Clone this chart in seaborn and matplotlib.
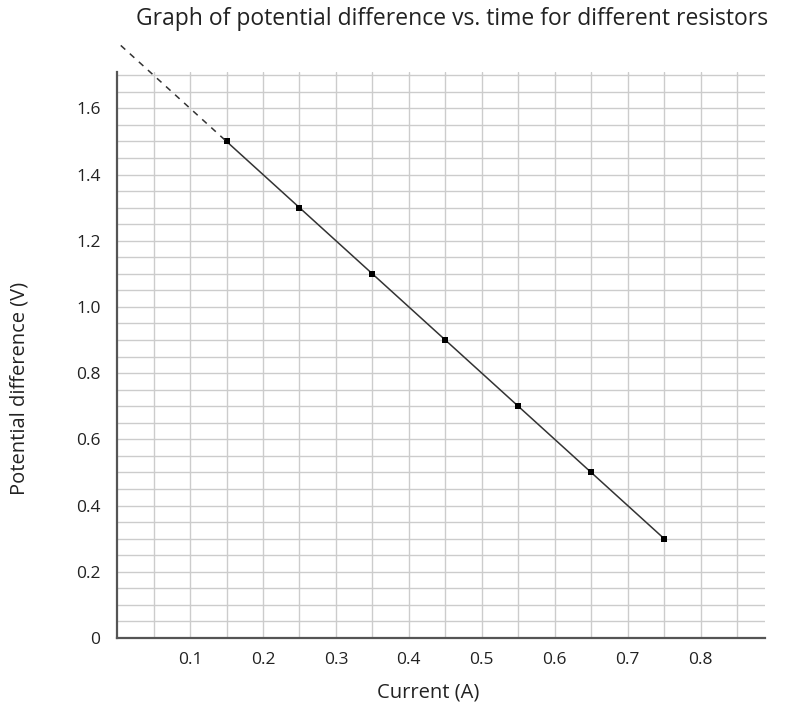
import numpy as np
import pandas as pd
import matplotlib
matplotlib.use("Agg")
import matplotlib.pyplot as plt
import seaborn as sns

current = [0.15, 0.25, 0.35, 0.45, 0.55, 0.65, 0.75]
pot_diff = [1.5, 1.3, 1.1, 0.9, 0.7, 0.5, 0.3]
extrap_current = [0.005, 0.15]
extrap_pd = [1.79, 1.5]
x_ticks = [0.1, 0.2, 0.3, 0.4, 0.5, 0.6, 0.7, 0.8]
y_ticks = [0, 0.2, 0.4, 0.6, 0.8, 1.0, 1.2, 1.4, 1.6]
y_tick_labels = ["0", "0.2", "0.4", "0.6", "0.8", "1.0", "1.2", "1.4", "1.6"]

df = pd.DataFrame({"Current (A)": current, "Potential difference (V)": pot_diff})

sns.set_style("white")
plt.rcParams["font.family"] = ["Open Sans", "DejaVu Sans"]

fig = plt.figure(figsize=(7.86, 7.12), dpi=100)
ax = fig.add_axes([0.149, 0.104, 0.824, 0.795])

sns.lineplot(data=df, x="Current (A)", y="Potential difference (V)", ax=ax,
             color="#333333", linewidth=1.1, marker="s", markersize=4.5,
             markeredgewidth=0, markerfacecolor="black", zorder=3)
# dashed extrapolation back towards the y axis
ax.plot(extrap_current, extrap_pd, color="#333333", linewidth=1.1,
        linestyle=(0, (4, 4)), clip_on=False, zorder=3)

ax.set_xlim(0, 0.888)
ax.set_ylim(0, 1.71)
ax.set_xticks(x_ticks)
ax.set_xticklabels([f"{v:.1f}" for v in x_ticks])
ax.set_yticks(y_ticks)
ax.set_yticklabels(y_tick_labels)
ax.set_xticks(np.arange(0.05, 0.9, 0.1), minor=True)
ax.set_yticks(np.arange(0.05, 1.71, 0.05), minor=True)
ax.grid(which="both", color="#cccccc", linewidth=1.0)
ax.tick_params(which="both", length=0, labelsize=12.5, colors="#222222")
ax.tick_params(axis="x", pad=10)
ax.tick_params(axis="y", pad=12)

for side in ["top", "right"]:
    ax.spines[side].set_visible(False)
for side in ["left", "bottom"]:
    ax.spines[side].set_color("#555555")
    ax.spines[side].set_linewidth(1.6)

ax.set_xlabel("Current (A)", fontsize=14.5, color="#222222")
ax.set_ylabel("Potential difference (V)", fontsize=14.5, color="#222222")
ax.xaxis.set_label_coords(0.48, -0.078)
ax.yaxis.set_label_coords(-0.135, 0.44)
fig.text(0.575, 0.974, "Graph of potential difference vs. time for different resistors",
         ha="center", va="center", fontsize=16.5, color="#222222")

fig.savefig("out.png", dpi=100)
